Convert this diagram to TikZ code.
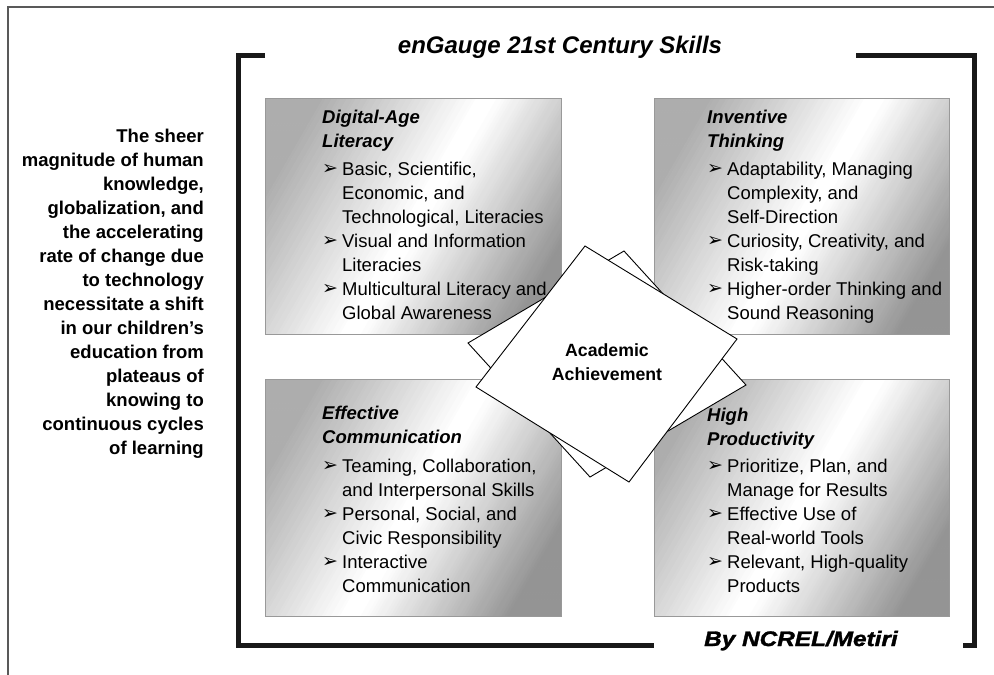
\documentclass[tikz,border=0pt]{standalone}
\usepackage{fontspec}
\usepackage{graphicx}
\setmainfont{Liberation Sans}
\newfontfamily\dvfont{DejaVu Sans}
\newfontfamily\byfont[FakeBold=1.5]{Liberation Sans}
\tikzset{
  frameline/.style={draw=black!65, line width=1.3pt},
  bracket/.style={draw=black!90, line width=5pt},
  boxborder/.style={draw=black!40, line width=1pt},
  paper/.style={draw=black, fill=white, line width=0.9pt, line join=miter},
  head/.style={anchor=base west, inner sep=0pt, font=\fontsize{18.5}{18.5}\selectfont\bfseries\itshape},
  item/.style={anchor=base west, inner sep=0pt, font=\fontsize{18.5}{18.5}\selectfont},
  side/.style={anchor=base east, inner sep=0pt, font=\fontsize{18.5}{18.5}\selectfont\bfseries},
}
\newcommand{\bul}{\makebox[20pt][l]{\raisebox{0.5pt}{\dvfont\fontsize{19}{19}\selectfont ➢}}}
\newcommand{\ind}{\makebox[20pt][l]{}}
% #1 name, (#2,#3) top-left, (#4,#5) bottom-right
\newcommand{\metalbox}[5]{%
  \pgfmathsetmacro\cx{(#2+#4)/2}%
  \pgfmathsetmacro\cy{(#3+#5)/2}%
  \coordinate (#1) at (\cx,\cy);
  \begin{scope}
    \clip (#2,#3) rectangle (#4,#5);
    \foreach \X in {-224,-221,...,226} {
      \pgfmathtruncatemacro\v{(\X<0) ? min(32,-0.2*(\X)) : ((\X<12) ? 0 : min(42,0.28*(\X-12)))}
      \fill[black!\v] ({\cx+(\X)+72},{\cy-125}) -- ++(3.6,0) -- ++(-144,250) -- ++(-3.6,0) -- cycle;
    }
  \end{scope}
  \draw[boxborder] (#2,#3) rectangle (#4,#5);}
\begin{document}
\begin{tikzpicture}[x=1pt,y=-1pt]
\useasboundingbox (0,0) rectangle (994,675);
\fill[white] (0,0) rectangle (994,675);
% outer frame
\draw[frameline] (8,675) -- (8,7) -- (994,7);
% bracket
\draw[bracket] (265,55.5) -- (238.5,55.5) -- (238.5,645) -- (654,645);
\draw[bracket] (856,55.5) -- (974,55.5) -- (974,645) -- (963,645);
% title
\node[anchor=base, inner sep=0pt, font=\fontsize{24}{24}\selectfont\bfseries\itshape] (title) at (560,53) {enGauge 21st Century Skills};
% side text
\foreach \t [count=\i] in {The sheer, magnitude of human, {knowledge,}, {globalization, and}, the accelerating, rate of change due, to technology, necessitate a shift, in our children’s, education from, plateaus of, knowing to, continuous cycles, of learning}
  \node[side] (side\i) at (204, 118+24*\i) {\t};
% boxes
\metalbox{box1}{265}{98}{561}{334}
\metalbox{box2}{654}{98}{949}{334}
\metalbox{box3}{265}{379}{561}{616}
\metalbox{box4}{654}{379}{949}{616}
% box 1
\node[head] (h1a) at (322,123) {Digital-Age};
\node[head] (h1b) at (322,147) {Literacy};
\foreach \t [count=\i] in {\bul Basic{,} Scientific{,}, \ind Economic{,} and, \ind Technological{,} Literacies, \bul Visual and Information, \ind Literacies, \bul Multicultural Literacy and, \ind Global Awareness}
  \node[item] (b1l\i) at (322, 151+24*\i) {\t};
% box 2
\node[head] (h2a) at (707,123) {Inventive};
\node[head] (h2b) at (707,147) {Thinking};
\foreach \t [count=\i] in {\bul Adaptability{,} Managing, \ind Complexity{,} and, \ind Self-Direction, \bul Curiosity{,} Creativity{,} and, \ind Risk-taking, \bul Higher-order Thinking and, \ind Sound Reasoning}
  \node[item] (b2l\i) at (707, 151+24*\i) {\t};
% box 3
\node[head] (h3a) at (322,419) {Effective};
\node[head] (h3b) at (322,443) {Communication};
\foreach \t [count=\i] in {\bul Teaming{,} Collaboration{,}, \ind and Interpersonal Skills, \bul Personal{,} Social{,} and, \ind Civic Responsibility, \bul Interactive, \ind Communication}
  \node[item] (b3l\i) at (322, 448+24*\i) {\t};
% box 4
\node[head] (h4a) at (707,421) {High};
\node[head] (h4b) at (707,445) {Productivity};
\foreach \t [count=\i] in {\bul Prioritize{,} Plan{,} and, \ind Manage for Results, \bul Effective Use of, \ind Real-world Tools, \bul Relevant{,} High-quality, \ind Products}
  \node[item] (b4l\i) at (707, 448+24*\i) {\t};
% papers
\draw[paper] (624,251) -- (746,385) -- (590,477) -- (468,343) -- cycle;
\draw[paper] (585,246) -- (737,339) -- (629,482) -- (476,387) -- cycle;
\node[anchor=base, inner sep=0pt, font=\fontsize{17.7}{17.7}\selectfont\bfseries] (ac1) at (607,356) {Academic};
\node[anchor=base, inner sep=0pt, font=\fontsize{17.7}{17.7}\selectfont\bfseries] (ac2) at (607,380) {Achievement};
% credit
\node[anchor=base west, inner sep=0pt, font=\fontsize{21}{21}\byfont\bfseries\itshape] (credit) at (704,646) {\scalebox{1.16}[1]{By NCREL/Metiri}};
\end{tikzpicture}
\end{document}
